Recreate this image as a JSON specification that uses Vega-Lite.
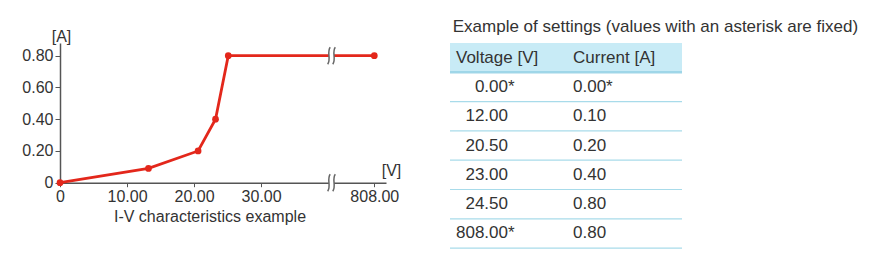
{
  "$schema": "https://vega.github.io/schema/vega-lite/v6.json",
  "padding": {"left": 21, "top": 18, "right": 19, "bottom": 19},
  "bounds": "flush",
  "spacing": 64,
  "config": {"view": {"stroke": null}, "font": "Liberation Sans"},
  "datasets": {
    "points": [
      {"v": 0, "i": 0},
      {"v": 13.2, "i": 0.09},
      {"v": 20.6, "i": 0.2},
      {"v": 23.2, "i": 0.4},
      {"v": 25.1, "i": 0.8},
      {"v": 808, "i": 0.8}
    ],
    "grid": [{"i": 0.2}, {"i": 0.4}, {"i": 0.6}, {"i": 0.8}],
    "breaks": [{"v": 40.5, "i": 0.8}, {"v": 40.5, "i": 0}],
    "header": [{"row": 0, "voltage": "Voltage [V]", "current": "Current [A]"}],
    "table": [
      {"row": 1, "voltage": "0.00", "vstar": "*", "current": "0.00*"},
      {"row": 2, "voltage": "12.00", "vstar": "", "current": "0.10"},
      {"row": 3, "voltage": "20.50", "vstar": "", "current": "0.20"},
      {"row": 4, "voltage": "23.00", "vstar": "", "current": "0.40"},
      {"row": 5, "voltage": "24.50", "vstar": "", "current": "0.80"},
      {"row": 6, "voltage": "808.00", "vstar": "*", "current": "0.80"}
    ]
  },
  "hconcat": [
    {
      "width": 326,
      "height": 139.7,
      "title": {"text": "I-V characteristics example", "orient": "bottom", "anchor": "middle", "dx": -13, "fontSize": 16, "fontWeight": "normal", "color": "#333", "offset": 4},
      "encoding": {
        "x": {
          "field": "v", "type": "quantitative",
          "scale": {"domain": [0, 40.5, 800, 808, 810], "range": [0, 271.5, 271.5, 314.3, 326], "nice": false, "zero": false},
          "axis": {"values": [0, 10, 20, 30, 808], "labelExpr": "datum.value == 0 ? '0' : format(datum.value, '.2f')", "title": "[V]", "titleX": 331, "titleY": -12, "titleAngle": 0, "titleAlign": "center", "titleBaseline": "middle", "titleFontSize": 16, "titleFontWeight": "normal", "titleColor": "#333", "labelFontSize": 16, "labelColor": "#333", "labelPadding": 2, "tickSize": 4, "tickColor": "#555", "domainColor": "#555", "domainWidth": 1.5, "grid": false, "labelFlush": false, "labelOverlap": false}
        },
        "y": {
          "field": "i", "type": "quantitative",
          "scale": {"domain": [0, 0.88], "nice": false},
          "axis": {"values": [0, 0.2, 0.4, 0.6, 0.8], "labelExpr": "datum.value == 0 ? '0' : format(datum.value, '.2f')", "title": "[A]", "titleX": 1, "titleY": -7, "titleAngle": 0, "titleAlign": "center", "titleBaseline": "middle", "titleFontSize": 16, "titleFontWeight": "normal", "titleColor": "#333", "labelFontSize": 16, "labelColor": "#333", "labelPadding": 2, "tickSize": 5, "tickColor": "#555", "domainColor": "#555", "domainWidth": 1.5, "grid": false}
        }
      },
      "layer": [
        {
          "data": {"name": "grid"},
          "mark": {"type": "rule", "color": "#8f8f8f", "strokeWidth": 1.5},
          "encoding": {"x": {"datum": 0, "type": "quantitative"}, "x2": {"datum": 808.7}}
        },
        {
          "data": {"name": "points"},
          "mark": {"type": "line", "color": "#e3271b", "strokeWidth": 2.8}
        },
        {
          "data": {"name": "points"},
          "mark": {"type": "point", "filled": true, "color": "#e3271b", "size": 45, "opacity": 1}
        },
        {
          "data": {"name": "breaks"},
          "mark": {"type": "point", "filled": true, "color": "white", "opacity": 1, "size": 289, "shape": "M -0.3,-0.3 H 0.3 V 0.3 H -0.3 Z"}
        },
        {
          "data": {"name": "breaks"},
          "mark": {"type": "point", "filled": false, "color": "#666", "strokeWidth": 1.5, "opacity": 1, "size": 289, "shape": "M -0.15,-1 C -0.6,-0.4 -0.0,0.4 -0.45,1 M 0.45,-1 C 0.0,-0.4 0.6,0.4 0.15,1"}
        }
      ]
    },
    {
      "width": 232,
      "height": 205.1,
      "title": {"text": "Example of settings (values with an asterisk are fixed)", "anchor": "start", "fontSize": 17, "fontWeight": "normal", "color": "#333", "offset": 7, "dx": 4},
      "layer": [
        {
          "data": {"name": "header"},
          "mark": {"type": "rect", "color": "#c8ebf6"},
          "encoding": {"y": {"field": "row", "type": "ordinal", "scale": {"domain": [0, 1, 2, 3, 4, 5, 6], "paddingInner": 0, "paddingOuter": 0}, "axis": null}}
        },
        {
          "data": {"name": "table"},
          "mark": {"type": "rule", "color": "#a8dbea", "strokeWidth": 1.2},
          "encoding": {"y": {"field": "row", "type": "ordinal", "bandPosition": 1}}
        },
        {
          "data": {"name": "header"},
          "mark": {"type": "rule", "color": "#9fd6e8", "strokeWidth": 2.5},
          "encoding": {"y": {"field": "row", "type": "ordinal", "bandPosition": 1}}
        },
        {
          "data": {"name": "header"},
          "mark": {"type": "text", "align": "left", "dx": -52, "fontSize": 17, "color": "#333"},
          "encoding": {
            "y": {"field": "row", "type": "ordinal"},
            "x": {"datum": "Voltage [V]", "type": "nominal", "scale": {"domain": ["Voltage [V]", "Current [A]"], "paddingInner": 0, "paddingOuter": 0}, "axis": null},
            "text": {"field": "voltage"}
          }
        },
        {
          "data": {"name": "header"},
          "mark": {"type": "text", "align": "left", "dx": -51, "fontSize": 17, "color": "#333"},
          "encoding": {
            "y": {"field": "row", "type": "ordinal"},
            "x": {"datum": "Current [A]", "type": "nominal"},
            "text": {"field": "current"}
          }
        },
        {
          "data": {"name": "table"},
          "mark": {"type": "text", "align": "right", "fontSize": 17, "color": "#333"},
          "encoding": {
            "y": {"field": "row", "type": "ordinal"},
            "x": {"datum": "Voltage [V]", "type": "nominal"},
            "text": {"field": "voltage"}
          }
        },
        {
          "data": {"name": "table"},
          "mark": {"type": "text", "align": "left", "fontSize": 17, "color": "#333"},
          "encoding": {
            "y": {"field": "row", "type": "ordinal"},
            "x": {"datum": "Voltage [V]", "type": "nominal"},
            "text": {"field": "vstar"}
          }
        },
        {
          "data": {"name": "table"},
          "mark": {"type": "text", "align": "left", "dx": -51, "fontSize": 17, "color": "#333"},
          "encoding": {
            "y": {"field": "row", "type": "ordinal"},
            "x": {"datum": "Current [A]", "type": "nominal"},
            "text": {"field": "current"}
          }
        }
      ]
    }
  ]
}
